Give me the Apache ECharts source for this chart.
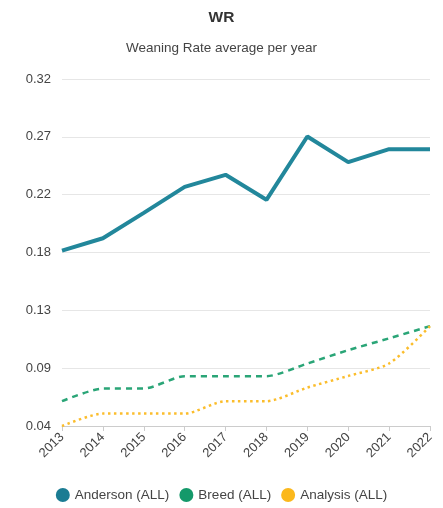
<!DOCTYPE html>
<html>
<head>
<meta charset="utf-8">
<script src="https://cdn.jsdelivr.net/npm/echarts@6/dist/echarts.min.js"></script>
<style>
html,body{margin:0;padding:0;background:#fff;}
#chart{width:443px;height:508px;}
</style>
</head>
<body>
<div id="chart"></div>
<script>
const years = ['2013','2014','2015','2016','2017','2018','2019','2020','2021','2022'];
const anderson = [0.1815, 0.1915, 0.212, 0.233, 0.2427, 0.2225, 0.2736, 0.2529, 0.2634, 0.2634];
const breed = [0.060, 0.0702, 0.0702, 0.0802, 0.0802, 0.0802, 0.0904, 0.1012, 0.1107, 0.1206];
const analysis = [0.040, 0.050, 0.050, 0.050, 0.060, 0.060, 0.071, 0.0804, 0.0904, 0.1206];
const yTickLabels = ['0.04','0.09','0.13','0.18','0.22','0.27','0.32'];
const yMin = 0.04, yMax = 0.32;

const chart = echarts.init(document.getElementById('chart'));
const step = (yMax - yMin) / 6;
chart.setOption({
  animation: false,
  textStyle: {fontFamily: 'Liberation Sans, Arial, sans-serif'},
  title: {
    text: 'WR',
    subtext: 'Weaning Rate average per year',
    left: 'center',
    top: 5,
    itemGap: 15,
    textStyle: {fontSize: 15.5, fontWeight: 'bold', color: '#333'},
    subtextStyle: {fontSize: 13.5, color: '#444'}
  },
  legend: {
    bottom: 1,
    left: 'center',
    icon: 'circle',
    itemWidth: 14,
    itemHeight: 14,
    itemGap: 10,
    textStyle: {fontSize: 13.5, color: '#444'}
  },
  grid: {left: 62, right: 13, top: 79, bottom: 82, containLabel: false},
  xAxis: {
    type: 'category',
    data: years,
    boundaryGap: false,
    axisLine: {lineStyle: {color: '#ccc'}},
    axisTick: {show: true, alignWithLabel: true, lineStyle: {color: '#ccc'}},
    axisLabel: {rotate: 45, color: '#444', fontSize: 13, margin: 9}
  },
  yAxis: {
    type: 'value',
    min: yMin,
    max: yMax,
    interval: step,
    axisLine: {show: false},
    axisTick: {show: false},
    splitLine: {lineStyle: {color: '#e6e6e6'}},
    axisLabel: {
      color: '#444', fontSize: 13, margin: 11,
      formatter: function (v) {
        const i = Math.round((v - yMin) / step);
        return yTickLabels[i] !== undefined ? yTickLabels[i] : '';
      }
    }
  },
  series: [
    {
      name: 'Anderson (ALL)', type: 'line', data: anderson,
      symbol: 'none', color: '#1b7c93',
      lineStyle: {width: 4, color: '#22879b'}
    },
    {
      name: 'Breed (ALL)', type: 'line', data: breed,
      symbol: 'none', smooth: 0.25, color: '#14996a',
      lineStyle: {width: 2.5, type: [6, 5], color: '#2aa577'}
    },
    {
      name: 'Analysis (ALL)', type: 'line', data: analysis,
      symbol: 'none', smooth: 0.25, color: '#fbb81c',
      lineStyle: {width: 2.5, type: [2.5, 3.5], color: '#fbbd2c'}
    }
  ]
});
</script>
</body>
</html>
